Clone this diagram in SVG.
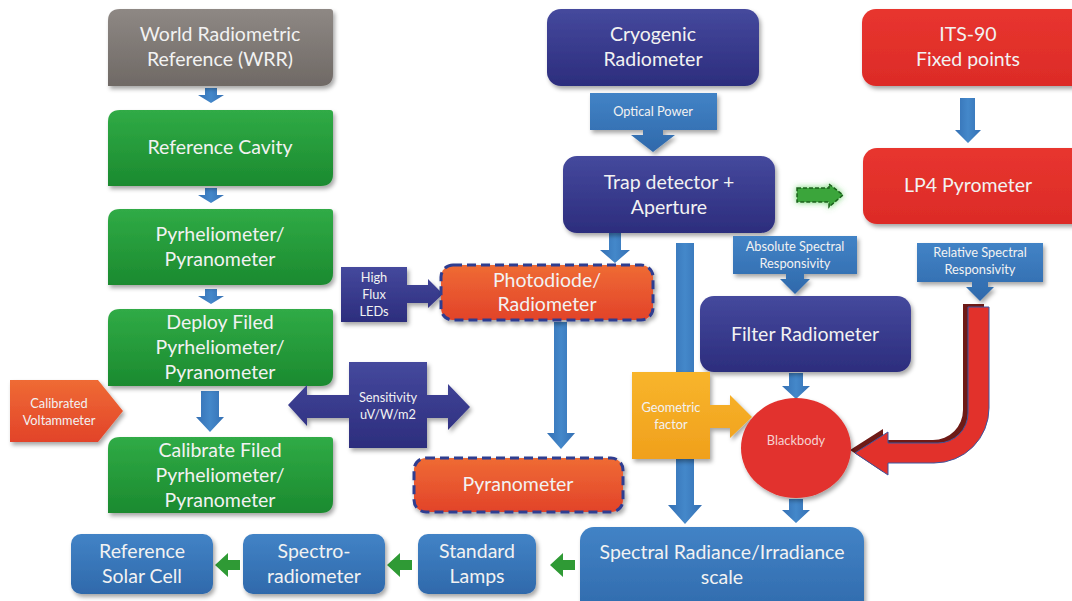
<svg xmlns="http://www.w3.org/2000/svg" width="1072" height="601" viewBox="0 0 1072 601">
<defs>
<linearGradient id="gGray" x1="0" y1="0" x2="0" y2="1"><stop offset="0" stop-color="#8e8884"/><stop offset="1" stop-color="#6f6965"/></linearGradient>
<linearGradient id="gGreen" x1="0" y1="0" x2="0" y2="1"><stop offset="0" stop-color="#30ab46"/><stop offset="1" stop-color="#1b8a2f"/></linearGradient>
<linearGradient id="gNavy" x1="0" y1="0" x2="0" y2="1"><stop offset="0" stop-color="#45499d"/><stop offset="1" stop-color="#2c2d7d"/></linearGradient>
<linearGradient id="gBlue" x1="0" y1="0" x2="0" y2="1"><stop offset="0" stop-color="#4283c6"/><stop offset="1" stop-color="#2f69ab"/></linearGradient>
<linearGradient id="gRed" x1="0" y1="0" x2="0" y2="1"><stop offset="0" stop-color="#e8352f"/><stop offset="1" stop-color="#dc2b27"/></linearGradient>
<linearGradient id="gOrange" x1="0" y1="0" x2="0" y2="1"><stop offset="0" stop-color="#ef6b34"/><stop offset="1" stop-color="#e2432a"/></linearGradient>
<linearGradient id="gYellow" x1="0" y1="0" x2="0" y2="1"><stop offset="0" stop-color="#f8b52c"/><stop offset="1" stop-color="#f0a01c"/></linearGradient>
<linearGradient id="gArrow" x1="0" y1="0" x2="1" y2="0"><stop offset="0" stop-color="#3470b4"/><stop offset="0.5" stop-color="#4488ca"/><stop offset="1" stop-color="#3470b4"/></linearGradient>
<filter id="sh" x="-10%" y="-10%" width="130%" height="140%"><feDropShadow dx="2" dy="3" stdDeviation="2" flood-color="#000" flood-opacity="0.35"/></filter>
<filter id="glow" x="-30%" y="-50%" width="160%" height="200%"><feDropShadow dx="0" dy="0" stdDeviation="3" flood-color="#5ccf5c" flood-opacity="0.9"/></filter>
<style>
text{font-family:Lato,"Liberation Sans",sans-serif;fill:#f2f2f2;text-anchor:middle}
.big{font-size:19.5px}
.sm{font-size:12.8px}
.gray{fill:url(#gGray);filter:url(#sh)}
.green{fill:url(#gGreen);filter:url(#sh)}
.navy{fill:url(#gNavy);filter:url(#sh)}
.blue{fill:url(#gBlue);filter:url(#sh)}
.red{fill:url(#gRed);filter:url(#sh)}
.orange{fill:url(#gOrange);filter:url(#sh)}
.dash{stroke:#2f3c90;stroke-width:3;stroke-dasharray:9 5}
.yellow{fill:url(#gYellow);filter:url(#sh)}
.arr{fill:url(#gArrow)}
.garr{fill:#2f9a35}
</style>
</defs>
<rect width="1072" height="601" fill="#ffffff"/>

<g id="connectors">
<path class="arr" d="M205,88 H217 V95 H224 L211,103 L198,95 H205 Z"/>
<path class="arr" d="M205,188 H217 V195 H224 L211,203 L198,195 H205 Z"/>
<path class="arr" d="M205,289 H217 V296 H224 L211,304 L198,296 H205 Z"/>
<path class="arr" d="M201,391 H219 V417 H224 L210,432 L196,417 H201 Z"/>
<path class="arr" d="M960,98 H975 V130 H981 L968,143 L955,130 H960 Z"/>
<path class="arr" d="M609,233 H621 V250 H630 L615,263 L600,250 H609 Z"/>
<path class="arr" d="M554,322 H567 V433 H575 L561,449 L547,433 H554 Z"/>
<path class="arr" d="M676,243 H694 V505 H702 L685,524 L668,505 H676 Z"/>
<path class="arr" d="M789,373 H803 V386 H810 L796,399 L782,386 H789 Z"/>
<path class="arr" d="M789,499 H803 V510 H810 L796,523 L782,510 H789 Z"/>
<path class="garr" d="M240,560 H228 V553 L215,565 L228,577 V570 H240 Z"/>
<path class="garr" d="M412,560 H400 V553 L387,565 L400,577 V570 H412 Z"/>
<path class="garr" d="M575,560 H563 V553 L550,565 L563,577 V570 H575 Z"/>
<g id="green-dashed-arrow" filter="url(#glow)">
<path d="M797,188 H829 V184 L843,195 L829,207 V202 H797 Z" fill="#3aa53a" stroke="#1d5e1d" stroke-width="1.5" stroke-dasharray="4 2"/>
</g>
<g id="red-curved-arrow">
<path d="M963,304 L984,304 L984,405 A55,55 0 0 1 929,460 L883,460 L883,472 L850,450 L883,429 L883,440 L933,440 A30,30 0 0 0 963,410 Z" fill="#6e1a16"/>
<path d="M968,307 L989,307 L989,408 A55,55 0 0 1 934,463 L888,463 L888,475 L855,453 L888,432 L888,443 L938,443 A30,30 0 0 0 968,413 Z" fill="#e2312b" stroke="#3d56a0" stroke-width="1"/>
</g>
</g>

<g id="wrr"><path class="gray" d="M120,9 H330 Q333,9 333,12 V74 Q333,86 321,86 H108 V21 Q108,9 120,9 Z"/>
<text class="big" x="220" y="41">World Radiometric</text><text class="big" x="220" y="66">Reference (WRR)</text></g>
<g id="ref-cavity"><path class="green" d="M120,110 H330 Q333,110 333,113 V174 Q333,186 321,186 H108 V122 Q108,110 120,110 Z"/>
<text class="big" x="220" y="154">Reference Cavity</text></g>
<g id="pyrheliometer"><path class="green" d="M120,209 H330 Q333,209 333,212 V273 Q333,285 321,285 H108 V221 Q108,209 120,209 Z"/>
<text class="big" x="220" y="241">Pyrheliometer/</text><text class="big" x="220" y="266">Pyranometer</text></g>
<g id="deploy"><path class="green" d="M120,309 H330 Q333,309 333,312 V374 Q333,386 321,386 H108 V321 Q108,309 120,309 Z"/>
<text class="big" x="220" y="329">Deploy Filed</text><text class="big" x="220" y="354">Pyrheliometer/</text><text class="big" x="220" y="379">Pyranometer</text></g>
<g id="calibrate"><path class="green" d="M120,437 H330 Q333,437 333,440 V501 Q333,513 321,513 H108 V449 Q108,437 120,437 Z"/>
<text class="big" x="220" y="457">Calibrate Filed</text><text class="big" x="220" y="482">Pyrheliometer/</text><text class="big" x="220" y="507">Pyranometer</text></g>
<g id="voltammeter"><path class="orange" d="M10,380 H98 L123,411 L98,442 H10 Z"/>
<text class="sm" x="59" y="408">Calibrated</text><text class="sm" x="59" y="425">Voltammeter</text></g>
<g id="sensitivity"><path class="navy" d="M288,405 L307,385 V395 H349 V362 H427 V395 H448 V384 L470,407 L448,430 V418 H427 V448 H349 V418 H307 V426 Z"/>
<text class="sm" x="388" y="402">Sensitivity</text><text class="sm" x="388" y="419">uV/W/m2</text></g>
<g id="leds"><path class="navy" d="M341,267 H407 V285 H428 V279 L443,294 L428,308 V303 H407 V322 H341 Z"/>
<text class="sm" x="374" y="282">High</text><text class="sm" x="374" y="299">Flux</text><text class="sm" x="374" y="316">LEDs</text></g>
<g id="photodiode"><rect class="orange dash" x="441" y="265" width="212" height="55" rx="12"/>
<text class="big" x="547" y="287">Photodiode/</text><text class="big" x="547" y="311">Radiometer</text></g>
<g id="pyranometer"><rect class="orange dash" x="414" y="458" width="209" height="54" rx="12"/>
<text class="big" x="518" y="491">Pyranometer</text></g>
<g id="cryogenic"><rect class="navy" x="547" y="9" width="212" height="77" rx="14"/>
<text class="big" x="653" y="41">Cryogenic</text><text class="big" x="653" y="66">Radiometer</text></g>
<g id="optical-power"><path class="blue" d="M590,93 H717 V130 H663 V135 H675 L653,152 L631,135 H643 V130 H590 Z"/>
<text class="sm" x="653" y="116">Optical Power</text></g>
<g id="trap"><rect class="navy" x="563" y="156" width="212" height="77" rx="14"/>
<text class="big" x="669" y="189">Trap detector +</text><text class="big" x="669" y="214">Aperture</text></g>
<g id="absolute"><path class="blue" d="M733,236 H857 V274 H804 V279 H810 L795,294 L780,279 H786 V274 H733 Z"/>
<text class="sm" x="795" y="251">Absolute Spectral</text><text class="sm" x="795" y="268">Responsivity</text></g>
<g id="filter-radiometer"><rect class="navy" x="700" y="296" width="211" height="76" rx="14"/>
<text class="big" x="805" y="341">Filter Radiometer</text></g>
<g id="geometric"><path class="yellow" d="M632,372 H710 V405 H730 V395 L752,417 L730,438 V428 H710 V459 H632 Z"/>
<text class="sm" x="671" y="412">Geometric</text><text class="sm" x="671" y="429">factor</text></g>
<g id="blackbody"><ellipse cx="796" cy="448" rx="55" ry="50" fill="#e2312d" filter="url(#sh)"/>
<text class="sm" x="796" y="445" style="fill:#f5d2d2">Blackbody</text></g>
<g id="its90"><rect class="red" x="862" y="9" width="230" height="77" rx="14"/>
<text class="big" x="968" y="41">ITS-90</text><text class="big" x="968" y="66">Fixed points</text></g>
<g id="lp4"><rect class="red" x="863" y="148" width="230" height="76" rx="14"/>
<text class="big" x="968" y="192">LP4 Pyrometer</text></g>
<g id="relative"><path class="blue" d="M917,243 H1043 V282 H988 V287 H994 L980,301 L966,287 H972 V282 H917 Z"/>
<text class="sm" x="980" y="257">Relative Spectral</text><text class="sm" x="980" y="274">Responsivity</text></g>
<g id="spectral-scale"><rect class="blue" x="580" y="527" width="284" height="90" rx="14"/>
<text class="big" x="722" y="559">Spectral Radiance/Irradiance</text><text class="big" x="722" y="584">scale</text></g>
<g id="standard-lamps"><rect class="blue" x="418" y="534" width="118" height="60" rx="10"/>
<text class="big" x="477" y="558">Standard</text><text class="big" x="477" y="583">Lamps</text></g>
<g id="spectroradiometer"><rect class="blue" x="243" y="534" width="142" height="60" rx="10"/>
<text class="big" x="314" y="558">Spectro-</text><text class="big" x="314" y="583">radiometer</text></g>
<g id="ref-solar-cell"><rect class="blue" x="71" y="534" width="142" height="60" rx="10"/>
<text class="big" x="142" y="558">Reference</text><text class="big" x="142" y="583">Solar Cell</text></g>
</svg>
